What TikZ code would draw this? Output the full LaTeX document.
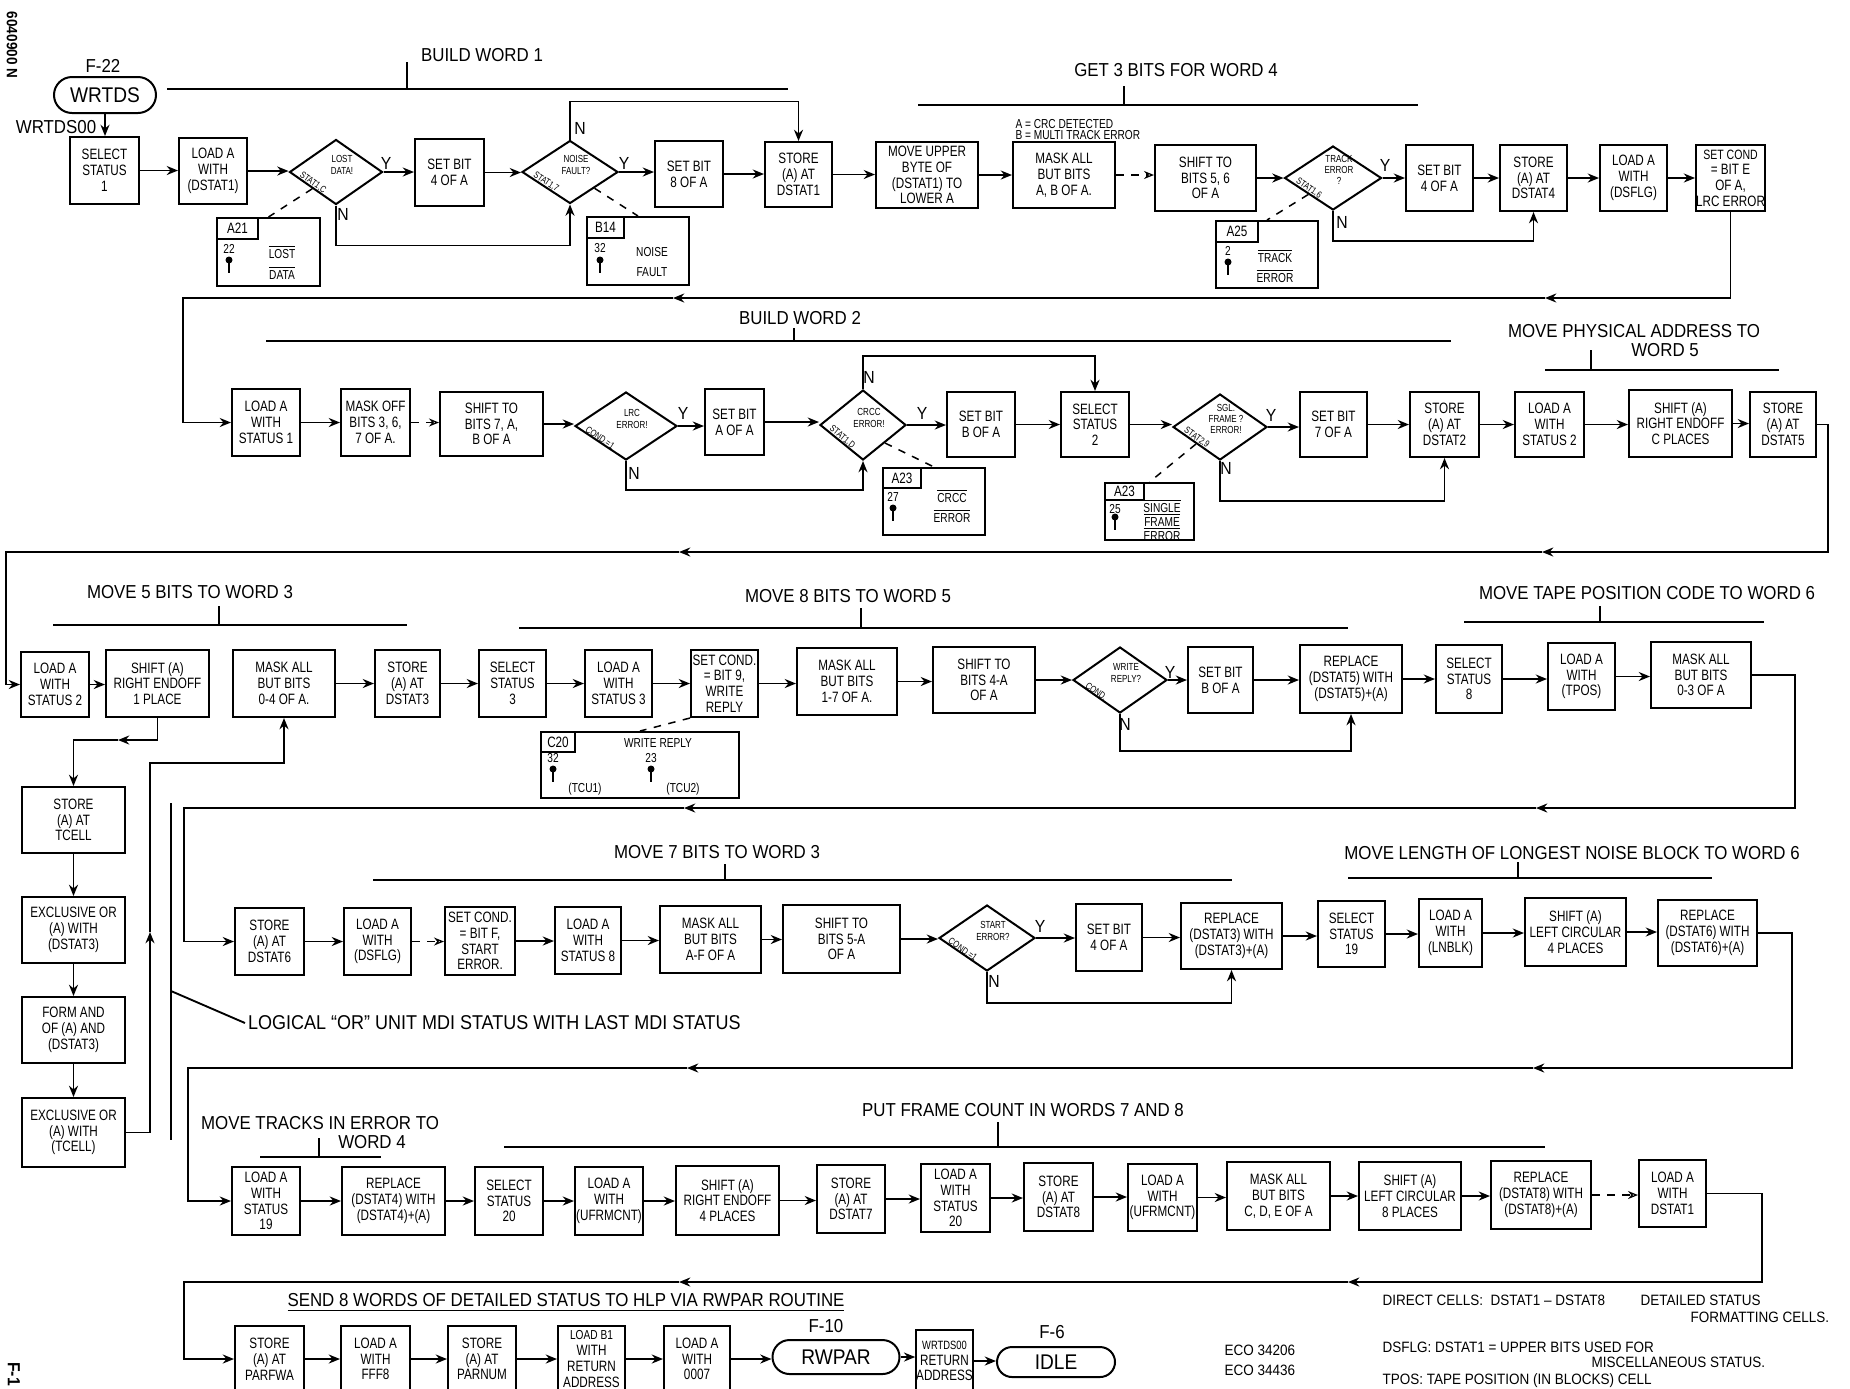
\documentclass[tikz,border=0pt]{standalone}
\usepackage{fontspec}
\newfontfamily\hand[FakeStretch=0.78]{Liberation Sans}
\newfontfamily\handw[FakeStretch=0.9]{Liberation Sans}
\usetikzlibrary{arrows.meta,shapes.geometric,shapes.misc,calc}
\newcommand\bx[6]{\node[stepbox, minimum width={(#3-#2)*0.4pt}, minimum height={(#5-#4)*0.4pt}] (#1) at ({(#2+#3)/2},{(#4+#5)/2}) {#6};}
\newcommand\dm[6]{\node[dia, minimum width={#4*0.4pt}, minimum height={#5*0.4pt}] (#1) at (#2,#3) {};
  \node[dtext] at ($(#1.center)+(6,-7)$) {#6};}
\newcommand\dmt[6]{\node[dia, minimum width={#4*0.4pt}, minimum height={#5*0.4pt}] (#1) at (#2,#3) {};
  \node[dtext] at ($(#1.center)+(6,-8)$) {#6};}
\newcommand\sidelab[2]{\path (#1.west) -- (#1.south) node[pos=0.45, sloped, above=0pt, sidet] {#2};}
\newcommand\lamp[2]{\fill (#1,#2) circle[radius=3.5]; \draw[line width=0.8pt] (#1,#2) -- (#1,#2+13);}
\newcommand\ovl[1]{$\overline{\hbox{#1}}$}
\tikzset{
  stepbox/.style={draw, line width=0.8pt, inner sep=0pt, align=center, font=\hand\fontsize{6}{6.3}\selectfont},
  dia/.style={draw, diamond, line width=0.8pt, inner sep=0pt},
  dtext/.style={align=center, inner sep=0pt, font=\hand\fontsize{4.1}{4.5}\selectfont},
  sidet/.style={inner sep=0.4pt, font=\hand\fontsize{3.8}{4.2}\selectfont},
  term/.style={draw, rounded rectangle, line width=0.8pt, inner sep=0pt, font=\handw\fontsize{8.5}{9}\selectfont},
  arr/.style={line width=0.75pt, -{Stealth[length=4.5pt, width=3.6pt]}},
  darr/.style={line width=0.5pt, dashed, -{Stealth[length=4pt, width=3.2pt, open]}},
  ln/.style={line width=0.75pt},
  dashln/.style={line width=0.6pt, dashed},
  hdr/.style={inner sep=1pt, font=\handw\fontsize{7.5}{8.5}\selectfont},
  yn/.style={inner sep=0pt, font=\handw\fontsize{7}{7}\selectfont},
  anno/.style={inner sep=0pt, align=center, font=\hand\fontsize{5.2}{5.6}\selectfont},
  note/.style={inner sep=0pt, anchor=west, font=\handw\fontsize{6}{7}\selectfont},
}
\begin{document}
\begin{tikzpicture}[x=0.4pt,y=-0.4pt]
\useasboundingbox (0,0) rectangle (1850,1388);
\fill[white] (0,0) rectangle (1850,1388);

% margin marks
\node[rotate=-90, font=\handw\bfseries\fontsize{6}{7}\selectfont] (film) at (12,45) {6040900 N};
\node[rotate=-90, font=\handw\bfseries\fontsize{7}{8}\selectfont] (fone) at (14,1374) {F-1};

% ---------------- Row 1 ----------------
\node[term, minimum width={102*0.4pt}, minimum height={36*0.4pt}] (wrtds) at (105,95) {WRTDS};
\node[hdr] (f22) at (103,66) {F-22};
\node[hdr] (wlab) at (56,127) {WRTDS00};
\node[hdr] (hb1) at (482,55) {BUILD WORD 1};
\draw[ln] (167,89) -- (788,89); \draw[ln] (407,62) -- (407,89);
\node[hdr] (hg3) at (1176,70) {GET 3 BITS FOR WORD 4};
\draw[ln] (918,105) -- (1418,105); \draw[ln] (1124,86) -- (1124,105);

\bx{b1}{70}{139}{137}{204}{SELECT\\STATUS\\1}
\bx{b2}{179}{247}{138}{204}{LOAD A\\WITH\\(DSTAT1)}
\dm{d1}{336}{172}{93}{65}{LOST\\DATA!}
\bx{b3}{415}{484}{139}{206}{SET BIT\\4 OF A}
\dm{d2}{570}{172}{96}{63}{NOISE\\FAULT?}
\bx{b4}{655}{723}{141}{207}{SET BIT\\8 OF A}
\bx{b5}{765}{832}{142}{207}{STORE\\(A) AT\\DSTAT1}
\bx{b6}{876}{978}{142}{208}{MOVE UPPER\\BYTE OF\\(DSTAT1) TO\\LOWER A}
\bx{b7}{1013}{1115}{142}{208}{MASK ALL\\BUT BITS\\A, B OF A.}
\bx{b8}{1155}{1256}{145}{211}{SHIFT TO\\BITS 5, 6\\OF A}
\dmt{d3}{1333}{178}{97}{64}{TRACK\\ERROR\\?}
\bx{b9}{1406}{1473}{145}{211}{SET BIT\\4 OF A}
\bx{b10}{1500}{1567}{145}{211}{STORE\\(A) AT\\DSTAT4}
\bx{b11}{1600}{1667}{145}{211}{LOAD A\\WITH\\(DSFLG)}
\bx{b12}{1697}{1764}{145}{211}{\fontsize{5.4}{6.2}\selectfont SET COND\\= BIT E\\OF A,\\LRC ERROR}
\sidelab{d1}{STAT1,C} \sidelab{d2}{STAT1,7} \sidelab{d3}{STAT1,6}
\node[anno, anchor=west] (crc1) at (1015,124) {A = CRC DETECTED};
\node[anno, anchor=west] (crc2) at (1015,135) {B = MULTI TRACK ERROR};

\node[yn] at (386,163) {Y}; \node[yn] at (343,214) {N};
\node[yn] at (624,163) {Y}; \node[yn] at (580,128) {N};
\node[yn] at (1385,165) {Y}; \node[yn] at (1342,222) {N};

\draw[arr] (wrtds.south) -- (wrtds.south |- b1.north);
\foreach \a/\b in {b1/b2,b2/d1,d1/b3,b3/d2,d2/b4,b4/b5,b5/b6,b6/b7,b8/d3,d3/b9,b9/b10,b10/b11,b11/b12}
  \draw[arr] (\a.east) -- (\a.east -| \b.west);
\draw[darr] (b7.east) -- (b7.east -| b8.west);
\draw[arr] (d1.south) -- ++(0,40) -| (d2.south);
\draw[arr] (d2.north) -- ++(0,-38) -| (b5.north);
\draw[arr] (d3.south) -- ++(0,30) -| (b10.south);

% annotation boxes row 1
\bx{a21}{217}{320}{218}{286}{} \bx{a21l}{217}{258}{218}{239}{A21}
\node[anno] at (229,249) {22}; \lamp{229}{260}
\node[anno] at (282,252) {\ovl{LOST}}; \node[anno] at (282,273) {\ovl{DATA}};
\draw[dashln] (d1.south west) -- (a21.north);
\bx{b14}{587}{689}{217}{285}{} \bx{b14l}{587}{624}{217}{238}{B14}
\node[anno] at (600,248) {32}; \lamp{600}{260}
\node[anno] at (652,252) {NOISE}; \node[anno] at (652,272) {FAULT};
\draw[dashln] (d2.south east) -- (b14.north);
\bx{a25}{1216}{1318}{221}{288}{} \bx{a25l}{1216}{1258}{221}{242}{A25}
\node[anno] at (1228,251) {2}; \lamp{1228}{262}
\node[anno] at (1275,256) {\ovl{TRACK}}; \node[anno] at (1275,276) {\ovl{ERROR}};
\draw[dashln] (d3.south west) -- (a25.north);

% ---------------- Row 2 ----------------
\node[hdr] (hb2) at (800,318) {BUILD WORD 2};
\draw[ln] (266,341) -- (1451,341); \draw[ln] (794,328) -- (794,341);
\node[hdr] (hpa) at (1634,331) {MOVE PHYSICAL ADDRESS TO};
\node[hdr] (hpb) at (1665,350) {WORD 5};
\draw[ln] (1545,370) -- (1779,370); \draw[ln] (1591,350) -- (1591,370);

\bx{c1}{232}{300}{389}{456}{LOAD A\\WITH\\STATUS 1}
\bx{c2}{341}{410}{389}{456}{MASK OFF\\BITS 3, 6,\\7 OF A.}
\bx{c3}{440}{543}{392}{456}{SHIFT TO\\BITS 7, A,\\B OF A}
\dm{e1}{626}{426}{102}{68}{LRC\\ERROR!}
\bx{c4}{705}{764}{389}{455}{SET BIT\\A OF A}
\dm{e2}{863}{425}{86}{70}{CRCC\\ERROR!}
\bx{c5}{947}{1015}{392}{457}{SET BIT\\B OF A}
\bx{c6}{1061}{1129}{392}{457}{SELECT\\STATUS\\2}
\dmt{e3}{1220}{427}{94}{66}{SGL.\\FRAME ?\\ERROR!}
\bx{c7}{1300}{1367}{392}{457}{SET BIT\\7 OF A}
\bx{c8}{1410}{1479}{392}{457}{STORE\\(A) AT\\DSTAT2}
\bx{c9}{1515}{1584}{392}{457}{LOAD A\\WITH\\STATUS 2}
\bx{c10}{1629}{1732}{390}{457}{SHIFT (A)\\RIGHT ENDOFF\\C PLACES}
\bx{c11}{1750}{1816}{392}{457}{STORE\\(A) AT\\DSTAT5}
\sidelab{e1}{COND.=1} \sidelab{e2}{STAT1,D} \sidelab{e3}{STAT2,9}
\node[yn] at (683,413) {Y}; \node[yn] at (634,473) {N};
\node[yn] at (922,413) {Y}; \node[yn] at (869,377) {N};
\node[yn] at (1271,415) {Y}; \node[yn] at (1226,468) {N};

\foreach \a/\b in {c1/c2,c3/e1,e1/c4,c4/e2,e2/c5,c5/c6,c6/e3,e3/c7,c7/c8,c8/c9,c9/c10,c10/c11}
  \draw[arr] (\a.east) -- (\a.east -| \b.west);
\draw[darr] (c2.east) -- (c2.east -| c3.west);
\draw[arr] (e1.south) -- ++(0,29) -| (e2.south);
\draw[arr] (e2.north) -- ++(0,-33) -| (c6.north);
\draw[arr] (e3.south) -- ++(0,40) -| (c8.south);

\bx{a23a}{883}{985}{468}{535}{} \bx{a23al}{883}{921}{468}{488}{A23}
\node[anno] at (893,497) {27}; \lamp{893}{508}
\node[anno] at (952,496) {\ovl{CRCC}}; \node[anno] at (952,516) {\ovl{ERROR}};
\draw[dashln] (e2.south east) -- (a23a.north);
\bx{a23b}{1105}{1194}{483}{540}{} \bx{a23bl}{1105}{1144}{483}{500}{A23}
\node[anno] at (1115,509) {25}; \lamp{1115}{517}
\node[anno] at (1162,506) {\ovl{SINGLE}}; \node[anno] at (1162,520) {\ovl{FRAME}};
\node[anno] at (1162,534) {\ovl{ERROR}};
\draw[dashln] (e3.south west) -- (a23b.north);

% ---------------- Row 3 ----------------
\node[hdr] (h5b) at (190,592) {MOVE 5 BITS TO WORD 3};
\draw[ln] (53,625) -- (407,625); \draw[ln] (219,606) -- (219,625);
\node[hdr] (h8b) at (848,596) {MOVE 8 BITS TO WORD 5};
\draw[ln] (519,628) -- (1348,628); \draw[ln] (861,608) -- (861,628);
\node[hdr] (htp) at (1647,593) {MOVE TAPE POSITION CODE TO WORD 6};
\draw[ln] (1464,622) -- (1764,622); \draw[ln] (1600,606) -- (1600,622);

\bx{f1}{21}{89}{652}{717}{LOAD A\\WITH\\STATUS 2}
\bx{f2}{106}{209}{650}{717}{SHIFT (A)\\RIGHT ENDOFF\\1 PLACE}
\bx{f3}{233}{335}{650}{717}{MASK ALL\\BUT BITS\\0-4 OF A.}
\bx{f4}{375}{440}{650}{717}{STORE\\(A) AT\\DSTAT3}
\bx{f5}{479}{546}{650}{717}{SELECT\\STATUS\\3}
\bx{f6}{585}{652}{650}{717}{LOAD A\\WITH\\STATUS 3}
\bx{f7}{691}{758}{650}{717}{SET COND.\\= BIT 9,\\WRITE\\REPLY}
\bx{f8}{797}{897}{648}{715}{MASK ALL\\BUT BITS\\1-7 OF A.}
\bx{f9}{933}{1035}{647}{713}{SHIFT TO\\BITS 4-A\\OF A}
\dm{g1}{1120}{680}{94}{66}{WRITE\\REPLY?}
\bx{f10}{1188}{1253}{647}{713}{SET BIT\\B OF A}
\bx{f11}{1300}{1402}{645}{713}{REPLACE\\(DSTAT5) WITH\\(DSTAT5)+(A)}
\bx{f12}{1436}{1502}{645}{713}{SELECT\\STATUS\\8}
\bx{f13}{1548}{1615}{643}{710}{LOAD A\\WITH\\(TPOS)}
\bx{f14}{1651}{1751}{642}{708}{MASK ALL\\BUT BITS\\0-3 OF A}
\sidelab{g1}{COND.}
\node[yn] at (1170,672) {Y}; \node[yn] at (1125,724) {N};

\foreach \a/\b in {f1/f2,f3/f4,f4/f5,f5/f6,f6/f7,f7/f8,f8/f9,f9/g1,g1/f10,f10/f11,f11/f12,f12/f13,f13/f14}
  \draw[arr] (\a.east) -- (\a.east -| \b.west);
\draw[arr] (g1.south) -- ++(0,37) -| (f11.south);

\bx{c20}{541}{739}{732}{798}{} \bx{c20l}{541}{575}{732}{752}{C20}
\node[anno] at (658,743) {WRITE REPLY};
\node[anno] at (553,758) {32}; \lamp{553}{769}
\node[anno] at (585,789) {(TCU1)};
\node[anno] at (651,758) {23}; \lamp{651}{769}
\node[anno] at (683,789) {(TCU2)};
\draw[dashln] (f7.south west) -- (c20.north);

% left column
\bx{t1}{22}{125}{787}{853}{STORE\\(A) AT\\TCELL}
\bx{t2}{22}{125}{897}{963}{EXCLUSIVE OR\\(A) WITH\\(DSTAT3)}
\bx{t3}{22}{125}{997}{1063}{FORM AND\\OF (A) AND\\(DSTAT3)}
\bx{t4}{22}{125}{1098}{1167}{EXCLUSIVE OR\\(A) WITH\\(TCELL)}
\coordinate (lc1) at (118,740);
\draw[arr] (f2.south) |- (lc1);
\draw[arr] (lc1) -| (t1.north);
\draw[arr] (t1.south) -- (t2.north);
\draw[arr] (t2.south) -- (t3.north);
\draw[arr] (t3.south) -- (t4.north);
\coordinate (lc2) at (150,932);
\draw[arr] (t4.east) -| (lc2);
\draw[arr] (lc2) |- ($(f3.south)+(0,45)$) -- (f3.south);
\draw[ln] (171,803) -- (171,1140);
\node[hdr, anchor=west, font=\handw\fontsize{8}{9}\selectfont] (lor) at (245,1023) {LOGICAL “OR” UNIT MDI STATUS WITH LAST MDI STATUS};
\coordinate (lorb) at (171,991);
\draw[ln] (lorb) -- (lor.west);

% ---------------- Row 4 ----------------
\node[hdr] (h7b) at (717,852) {MOVE 7 BITS TO WORD 3};
\draw[ln] (373,880) -- (1232,880); \draw[ln] (725,864) -- (725,880);
\node[hdr] (hln) at (1572,853) {MOVE LENGTH OF LONGEST NOISE BLOCK TO WORD 6};
\draw[ln] (1348,878) -- (1712,878); \draw[ln] (1518,862) -- (1518,878);

\bx{h1}{235}{304}{908}{975}{STORE\\(A) AT\\DSTAT6}
\bx{h2}{344}{411}{908}{975}{LOAD A\\WITH\\(DSFLG)}
\bx{h3}{445}{515}{907}{975}{SET COND.\\= BIT F,\\START\\ERROR.}
\bx{h4}{555}{621}{907}{974}{LOAD A\\WITH\\STATUS 8}
\bx{h5}{660}{761}{906}{973}{MASK ALL\\BUT BITS\\A-F OF A}
\bx{h6}{783}{900}{905}{973}{SHIFT TO\\BITS 5-A\\OF A}
\dm{k1}{987}{938}{96}{66}{START\\ERROR?}
\bx{h7}{1076}{1142}{904}{971}{SET BIT\\4 OF A}
\bx{h8}{1181}{1282}{903}{969}{REPLACE\\(DSTAT3) WITH\\(DSTAT3)+(A)}
\bx{h9}{1318}{1385}{901}{967}{SELECT\\STATUS\\19}
\bx{h10}{1419}{1482}{899}{967}{LOAD A\\WITH\\(LNBLK)}
\bx{h11}{1525}{1626}{898}{966}{SHIFT (A)\\LEFT CIRCULAR\\4 PLACES}
\bx{h12}{1658}{1757}{900}{966}{REPLACE\\(DSTAT6) WITH\\(DSTAT6)+(A)}
\sidelab{k1}{COND.=1}
\node[yn] at (1040,926) {Y}; \node[yn] at (994,981) {N};

\foreach \a/\b in {h1/h2,h3/h4,h4/h5,h5/h6,h6/k1,k1/h7,h7/h8,h8/h9,h9/h10,h10/h11,h11/h12}
  \draw[arr] (\a.east) -- (\a.east -| \b.west);
\draw[darr] (h2.east) -- (h2.east -| h3.west);
\draw[arr] (k1.south) -- ++(0,31) -| (h8.south);

% ---------------- Row 5 ----------------
\node[hdr] (htr) at (320,1123) {MOVE TRACKS IN ERROR TO};
\node[hdr] (htr2) at (372,1142) {WORD 4};
\draw[ln] (260,1157) -- (381,1157); \draw[ln] (319,1138) -- (319,1157);
\node[hdr] (hfc) at (1023,1110) {PUT FRAME COUNT IN WORDS 7 AND 8};
\draw[ln] (504,1147) -- (1545,1147); \draw[ln] (998,1122) -- (998,1147);

\bx{m1}{232}{300}{1167}{1235}{LOAD A\\WITH\\STATUS\\19}
\bx{m2}{342}{445}{1167}{1235}{REPLACE\\(DSTAT4) WITH\\(DSTAT4)+(A)}
\bx{m3}{475}{543}{1167}{1235}{SELECT\\STATUS\\20}
\bx{m4}{575}{643}{1167}{1235}{LOAD A\\WITH\\(UFRMCNT)}
\bx{m5}{676}{779}{1166}{1235}{SHIFT (A)\\RIGHT ENDOFF\\4 PLACES}
\bx{m6}{817}{885}{1165}{1233}{STORE\\(A) AT\\DSTAT7}
\bx{m7}{921}{990}{1164}{1232}{LOAD A\\WITH\\STATUS\\20}
\bx{m8}{1024}{1093}{1163}{1231}{STORE\\(A) AT\\DSTAT8}
\bx{m9}{1128}{1197}{1164}{1231}{LOAD A\\WITH\\(UFRMCNT)}
\bx{m10}{1227}{1330}{1162}{1230}{MASK ALL\\BUT BITS\\C, D, E OF A}
\bx{m11}{1359}{1461}{1162}{1230}{SHIFT (A)\\LEFT CIRCULAR\\8 PLACES}
\bx{m12}{1491}{1591}{1161}{1229}{REPLACE\\(DSTAT8) WITH\\(DSTAT8)+(A)}
\bx{m13}{1639}{1706}{1160}{1227}{LOAD A\\WITH\\DSTAT1}
\foreach \a/\b in {m1/m2,m2/m3,m3/m4,m4/m5,m5/m6,m6/m7,m7/m8,m8/m9,m9/m10,m10/m11,m11/m12}
  \draw[arr] (\a.east) -- (\a.east -| \b.west);
\draw[darr] (m12.east) -- (m12.east -| m13.west);

% ---------------- Row 6 ----------------
\node[hdr] (hsend) at (566,1303) {\underline{SEND 8 WORDS OF DETAILED STATUS TO HLP VIA RWPAR ROUTINE}};
\bx{n1}{235}{304}{1326}{1392}{STORE\\(A) AT\\PARFWA}
\bx{n2}{341}{410}{1326}{1392}{LOAD A\\WITH\\FFF8}
\bx{n3}{448}{516}{1326}{1392}{STORE\\(A) AT\\PARNUM}
\bx{n4}{558}{625}{1326}{1392}{\fontsize{5.2}{5.6}\selectfont LOAD B1\\WITH\\RETURN\\ADDRESS}
\bx{n5}{664}{730}{1326}{1392}{LOAD A\\WITH\\0007}
\node[term, minimum width={127*0.4pt}, minimum height={34*0.4pt}] (rwpar) at (836,1357) {RWPAR};
\node[hdr] (f10) at (826,1326) {F-10};
\bx{n6}{917}{972}{1330}{1392}{\fontsize{4.8}{5.6}\selectfont WRTDS00\\RETURN\\ADDRESS}
\node[term, minimum width={118*0.4pt}, minimum height={30*0.4pt}] (idle) at (1056,1362) {IDLE};
\node[hdr] (f6) at (1052,1332) {F-6};
\foreach \a/\b in {n1/n2,n2/n3,n3/n4,n4/n5,n5/rwpar,rwpar/n6,n6/idle}
  \draw[arr] (\a.east) -- (\a.east -| \b.west);

% ---------------- return lines between rows ----------------
\coordinate (r1a) at (1545,298); \coordinate (r1b) at (673,298); \coordinate (r1c) at (183,298);
\draw[arr] (b12.south) |- (r1a);
\draw[arr] (r1a) -- (r1b);
\draw[arr] (r1b) -- (r1c) |- (c1.west);

\coordinate (r2a) at (1542,552); \coordinate (r2b) at (679,552); \coordinate (r2c) at (6,552);
\draw[arr] (c11.east) -- ++(11,0) |- (r2a);
\draw[arr] (r2a) -- (r2b);
\draw[arr] (r2b) -- (r2c) |- (f1.west);

\coordinate (r3a) at (1536,808); \coordinate (r3b) at (684,808); \coordinate (r3c) at (184,808);
\draw[arr] (f14.east) -- ++(43,0) |- (r3a);
\draw[arr] (r3a) -- (r3b);
\draw[arr] (r3b) -- (r3c) |- (h1.west);

\coordinate (r4a) at (1533,1068); \coordinate (r4b) at (687,1068); \coordinate (r4c) at (188,1068);
\draw[arr] (h12.east) -- ++(34,0) |- (r4a);
\draw[arr] (r4a) -- (r4b);
\draw[arr] (r4b) -- (r4c) |- (m1.west);

\coordinate (r5a) at (1348,1282); \coordinate (r5b) at (679,1282); \coordinate (r5c) at (184,1282);
\draw[arr] (m13.east) -- ++(55,0) |- (r5a);
\draw[arr] (r5a) -- (r5b);
\draw[arr] (r5b) -- (r5c) |- (n1.west);

% notes
\node[note] (eco1) at (1224,1350) {ECO 34206};
\node[note] (eco2) at (1224,1370) {ECO 34436};
\node[note] (nt1) at (1382,1300) {DIRECT CELLS:};
\node[note] (nt2) at (1490,1300) {DSTAT1 – DSTAT8};
\node[note] (nt3) at (1640,1300) {DETAILED STATUS};
\node[note] (nt4) at (1690,1317) {FORMATTING CELLS.};
\node[note] (nt5) at (1382,1347) {DSFLG: DSTAT1 = UPPER BITS USED FOR};
\node[note] (nt6) at (1591,1362) {MISCELLANEOUS STATUS.};
\node[note] (nt7) at (1382,1381) {TPOS: TAPE POSITION (IN BLOCKS) CELL};
\end{tikzpicture}
\end{document}
